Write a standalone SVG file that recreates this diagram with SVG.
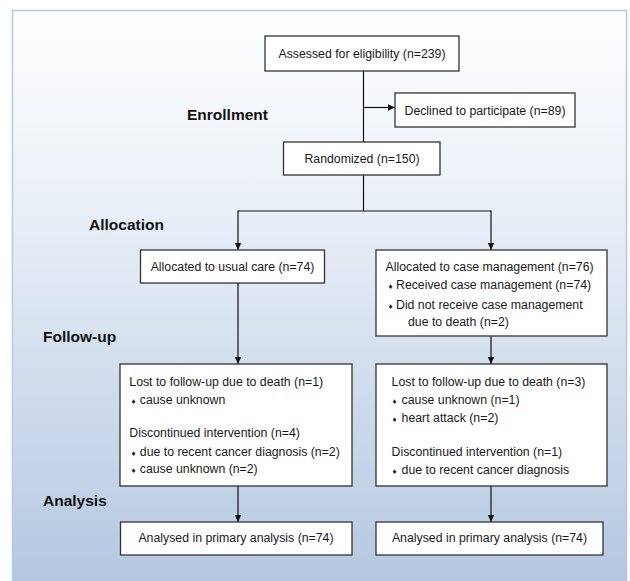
<svg xmlns="http://www.w3.org/2000/svg" width="630" height="581" viewBox="0 0 630 581">
<defs>
<linearGradient id="bg" x1="0" y1="0" x2="0" y2="1">
<stop offset="0" stop-color="#ffffff"/>
<stop offset="0.35" stop-color="#e9eff7"/>
<stop offset="1" stop-color="#b3c7e1"/>
</linearGradient>
<marker id="arr" markerWidth="8" markerHeight="8" refX="7" refY="4" orient="auto" markerUnits="userSpaceOnUse">
<path d="M0,0.8 L7,4 L0,7.2 Z" fill="#111"/>
</marker>
<style>
.box{fill:#fff;stroke:#333;stroke-width:1.3}
.t{font-family:"Liberation Sans",Arial,sans-serif;font-size:12.3px;fill:#1a1a1a}
.c{text-anchor:middle}
.h{font-family:"Liberation Sans",Arial,sans-serif;font-size:15.5px;font-weight:bold;fill:#111}
.b{font-size:8px}
.ln{stroke:#111;stroke-width:1.2;fill:none}
</style>
</defs>
<rect x="0" y="0" width="630" height="581" fill="#ffffff"/>
<rect x="12.5" y="10.5" width="614" height="580" fill="url(#bg)" stroke="#b9c9dc" stroke-width="1.5"/>

<g id="stages">
<text class="h" x="187" y="119.5">Enrollment</text>
<text class="h" x="89" y="230">Allocation</text>
<text class="h" x="43" y="342">Follow-up</text>
<text class="h" x="43" y="506">Analysis</text>
</g>

<g id="connectors">
<line class="ln" x1="363.5" y1="71" x2="363.5" y2="142"/>
<line class="ln" x1="363.5" y1="107.5" x2="395" y2="107.5" marker-end="url(#arr)"/>
<line class="ln" x1="363.5" y1="175" x2="363.5" y2="211"/>
<line class="ln" x1="238" y1="211" x2="491" y2="211"/>
<line class="ln" x1="238" y1="210.4" x2="238" y2="250" marker-end="url(#arr)"/>
<line class="ln" x1="491" y1="210.4" x2="491" y2="250" marker-end="url(#arr)"/>
<line class="ln" x1="238" y1="283" x2="238" y2="364" marker-end="url(#arr)"/>
<line class="ln" x1="491" y1="336" x2="491" y2="364" marker-end="url(#arr)"/>
<line class="ln" x1="238" y1="486" x2="238" y2="522" marker-end="url(#arr)"/>
<line class="ln" x1="491" y1="486" x2="491" y2="522" marker-end="url(#arr)"/>
</g>

<g id="assessed">
<rect class="box" x="265" y="36" width="194" height="35"/>
<text class="t c" x="362" y="58">Assessed for eligibility (n=239)</text>
</g>

<g id="declined">
<rect class="box" x="395" y="93" width="180" height="34"/>
<text class="t c" x="485" y="114.5">Declined to participate (n=89)</text>
</g>

<g id="randomized">
<rect class="box" x="283.5" y="142" width="156.5" height="33"/>
<text class="t c" x="362" y="162.5">Randomized (n=150)</text>
</g>

<g id="usual-care">
<rect class="box" x="140.5" y="250" width="184" height="33"/>
<text class="t c" x="232.5" y="271">Allocated to usual care (n=74)</text>
</g>

<g id="case-management">
<rect class="box" x="376" y="250" width="231" height="86"/>
<text class="t" x="385.5" y="270.5">Allocated to case management (n=76)</text>
<text class="t" x="388.5" y="289"><tspan class="b">♦</tspan><tspan x="396">Received case management (n=74)</tspan></text>
<text class="t" x="388.5" y="309"><tspan class="b">♦</tspan><tspan x="396">Did not receive case management</tspan></text>
<text class="t" x="408" y="325.5">due to death (n=2)</text>
</g>

<g id="usual-followup">
<rect class="box" x="120" y="364" width="232" height="122"/>
<text class="t" x="129.3" y="386">Lost to follow-up due to death (n=1)</text>
<text class="t" x="131.5" y="403.5"><tspan class="b">♦</tspan><tspan x="139.8">cause unknown</tspan></text>
<text class="t" x="129.3" y="437">Discontinued intervention (n=4)</text>
<text class="t" x="131.5" y="456"><tspan class="b">♦</tspan><tspan x="139.8">due to recent cancer diagnosis (n=2)</tspan></text>
<text class="t" x="131.5" y="472.5"><tspan class="b">♦</tspan><tspan x="139.8">cause unknown (n=2)</tspan></text>
</g>

<g id="case-followup">
<rect class="box" x="376" y="364" width="231" height="122"/>
<text class="t" x="391.6" y="386">Lost to follow-up due to death (n=3)</text>
<text class="t" x="392.6" y="403.5"><tspan class="b">♦</tspan><tspan x="401.6">cause unknown (n=1)</tspan></text>
<text class="t" x="392.6" y="422"><tspan class="b">♦</tspan><tspan x="401.6">heart attack (n=2)</tspan></text>
<text class="t" x="391.6" y="456">Discontinued intervention (n=1)</text>
<text class="t" x="392.6" y="473.5"><tspan class="b">♦</tspan><tspan x="401.6">due to recent cancer diagnosis</tspan></text>
</g>

<g id="usual-analysis">
<rect class="box" x="120.5" y="522" width="231.5" height="33"/>
<text class="t c" x="236" y="542">Analysed in primary analysis (n=74)</text>
</g>

<g id="case-analysis">
<rect class="box" x="376" y="522" width="227" height="33"/>
<text class="t c" x="489.5" y="542">Analysed in primary analysis (n=74)</text>
</g>
</svg>
